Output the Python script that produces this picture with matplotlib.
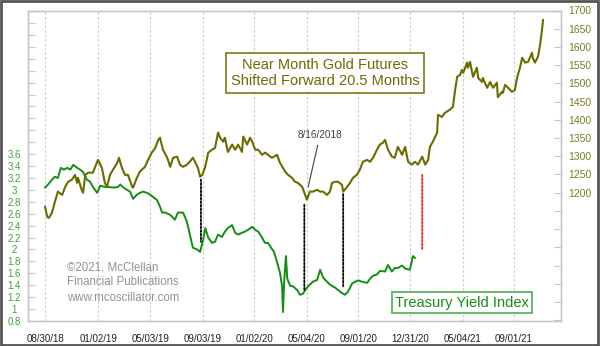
import numpy as np
import pandas as pd
import matplotlib
matplotlib.use('Agg')
from matplotlib import pyplot as plt
from matplotlib.patches import ConnectionPatch, Rectangle
import matplotlib.dates as mdates

plt.rcParams['font.family'] = ['Liberation Sans', 'DejaVu Sans']

# gold futures, shifted forward 20.5 months (plotted dates)
gold_dates = [
    '2018-08-30', '2018-09-04', '2018-09-08', '2018-09-15', '2018-09-22', '2018-09-29', '2018-10-09', '2018-10-16',
    '2018-10-23', '2018-11-01', '2018-11-08', '2018-11-13', '2018-11-15', '2018-11-25', '2018-11-27', '2018-12-02',
    '2018-12-09', '2018-12-20', '2018-12-30', '2019-01-01', '2019-01-10', '2019-01-17', '2019-01-22', '2019-01-29',
    '2019-02-05', '2019-02-15', '2019-02-19', '2019-02-26', '2019-03-05', '2019-03-12', '2019-03-22', '2019-03-24',
    '2019-04-02', '2019-04-09', '2019-04-21', '2019-04-28', '2019-05-07', '2019-05-15', '2019-05-22', '2019-05-26',
    '2019-06-02', '2019-06-12', '2019-06-19', '2019-06-26', '2019-07-05', '2019-07-12', '2019-07-19', '2019-07-28',
    '2019-08-04', '2019-08-11', '2019-08-16', '2019-08-23', '2019-08-28', '2019-09-02', '2019-09-09', '2019-09-16',
    '2019-09-25', '2019-10-02', '2019-10-09', '2019-10-14', '2019-10-21', '2019-10-25', '2019-11-01', '2019-11-11',
    '2019-11-18', '2019-11-25', '2019-12-04', '2019-12-07', '2019-12-16', '2019-12-23', '2019-12-28', '2020-01-04',
    '2020-01-11', '2020-01-20', '2020-01-27', '2020-02-03', '2020-02-12', '2020-02-17', '2020-02-24', '2020-03-02',
    '2020-03-14', '2020-03-21', '2020-03-30', '2020-04-06', '2020-04-13', '2020-04-23', '2020-04-30', '2020-05-04',
    '2020-05-11', '2020-05-18', '2020-05-28', '2020-06-04', '2020-06-11', '2020-06-20', '2020-06-27', '2020-07-02',
    '2020-07-09', '2020-07-16', '2020-07-25', '2020-07-28', '2020-08-06', '2020-08-13', '2020-08-20', '2020-08-29',
    '2020-09-05', '2020-09-12', '2020-09-22', '2020-09-29', '2020-10-06', '2020-10-15', '2020-10-22', '2020-10-29',
    '2020-11-03', '2020-11-10', '2020-11-19', '2020-11-26', '2020-12-03', '2020-12-13', '2020-12-20', '2020-12-27',
    '2021-01-05', '2021-01-12', '2021-01-19', '2021-01-29', '2021-02-05', '2021-02-12', '2021-02-16', '2021-02-23',
    '2021-03-05', '2021-03-07', '2021-03-16', '2021-03-23', '2021-04-04', '2021-04-11', '2021-04-16', '2021-04-21',
    '2021-04-28', '2021-05-02', '2021-05-05', '2021-05-14', '2021-05-16', '2021-05-21', '2021-05-28', '2021-06-06',
    '2021-06-09', '2021-06-18', '2021-06-20', '2021-06-30', '2021-07-07', '2021-07-14', '2021-07-23', '2021-07-25',
    '2021-08-04', '2021-08-06', '2021-08-11', '2021-08-18', '2021-08-27', '2021-09-03', '2021-09-08', '2021-09-15',
    '2021-09-20', '2021-09-27', '2021-10-04', '2021-10-13', '2021-10-15', '2021-10-20', '2021-10-27', '2021-11-01',
    '2021-11-05', '2021-11-08']
gold_values = [
    1161, 1134, 1131, 1145, 1175, 1203, 1194, 1216, 1230, 1236, 1249, 1227, 1241, 1203, 1200, 1249,
    1255, 1255, 1285, 1290, 1268, 1227, 1216, 1249, 1263, 1282, 1296, 1268, 1249, 1249, 1216, 1214,
    1241, 1258, 1271, 1290, 1310, 1323, 1345, 1351, 1318, 1296, 1271, 1296, 1299, 1277, 1271, 1277,
    1285, 1296, 1285, 1268, 1244, 1249, 1271, 1310, 1318, 1323, 1365, 1351, 1340, 1351, 1312, 1332,
    1318, 1332, 1312, 1354, 1332, 1351, 1340, 1318, 1318, 1304, 1310, 1304, 1296, 1299, 1304, 1282,
    1258, 1249, 1241, 1230, 1227, 1216, 1194, 1181, 1203, 1203, 1208, 1203, 1203, 1194, 1203, 1227,
    1230, 1230, 1222, 1203, 1216, 1227, 1241, 1249, 1263, 1285, 1290, 1285, 1296, 1318, 1332, 1337,
    1345, 1318, 1299, 1296, 1326, 1304, 1326, 1285, 1277, 1285, 1277, 1299, 1277, 1290, 1326, 1340,
    1365, 1414, 1408, 1419, 1428, 1436, 1482, 1518, 1524, 1537, 1529, 1557, 1543, 1559, 1518, 1543,
    1515, 1504, 1515, 1488, 1504, 1488, 1502, 1462, 1477, 1474, 1496, 1488, 1477, 1482, 1515, 1543,
    1570, 1557, 1559, 1584, 1570, 1557, 1573, 1606, 1642, 1674]

# treasury yield index
yield_dates = [
    '2018-08-30', '2018-09-06', '2018-09-15', '2018-09-22', '2018-09-29', '2018-10-06', '2018-10-13', '2018-10-21',
    '2018-10-28', '2018-11-04', '2018-11-13', '2018-11-20', '2018-11-27', '2018-12-06', '2018-12-13', '2018-12-20',
    '2018-12-30', '2019-01-06', '2019-01-17', '2019-01-24', '2019-02-03', '2019-02-10', '2019-02-17', '2019-02-22',
    '2019-03-01', '2019-03-10', '2019-03-17', '2019-03-24', '2019-04-02', '2019-04-09', '2019-04-16', '2019-04-26',
    '2019-05-03', '2019-05-10', '2019-05-19', '2019-05-26', '2019-05-31', '2019-06-07', '2019-06-19', '2019-06-30',
    '2019-07-07', '2019-07-19', '2019-07-28', '2019-08-04', '2019-08-11', '2019-08-21', '2019-08-28', '2019-09-04',
    '2019-09-09', '2019-09-16', '2019-09-25', '2019-10-02', '2019-10-09', '2019-10-18', '2019-10-25', '2019-11-01',
    '2019-11-11', '2019-11-18', '2019-11-25', '2019-12-04', '2019-12-11', '2019-12-18', '2019-12-28', '2020-01-04',
    '2020-01-11', '2020-01-20', '2020-01-27', '2020-02-03', '2020-02-12', '2020-02-17', '2020-02-24', '2020-03-02',
    '2020-03-07', '2020-03-09', '2020-03-12', '2020-03-16', '2020-03-19', '2020-03-26', '2020-04-02', '2020-04-11',
    '2020-04-18', '2020-04-25', '2020-05-04', '2020-05-11', '2020-05-18', '2020-05-28', '2020-06-04', '2020-06-11',
    '2020-06-20', '2020-06-27', '2020-07-09', '2020-07-16', '2020-07-25', '2020-08-01', '2020-08-08', '2020-08-18',
    '2020-08-25', '2020-09-01', '2020-09-10', '2020-09-22', '2020-09-29', '2020-10-06', '2020-10-15', '2020-10-22',
    '2020-11-03', '2020-11-10', '2020-11-19', '2020-11-26', '2020-12-03', '2020-12-13', '2020-12-20', '2020-12-31',
    '2021-01-05', '2021-01-07', '2021-01-12']
yield_values = [
    3.04, 3.09, 3.17, 3.22, 3.20, 3.37, 3.34, 3.37, 3.34, 3.42, 3.37, 3.34, 3.30, 3.17, 3.14, 3.05,
    2.95, 3.07, 3.05, 3.05, 3.04, 3.04, 3.05, 3.09, 3.04, 3.00, 2.97, 2.85, 2.92, 2.95, 2.97, 2.95,
    2.92, 2.88, 2.83, 2.72, 2.62, 2.62, 2.58, 2.50, 2.62, 2.62, 2.47, 2.25, 2.03, 2.00, 1.96, 2.16,
    2.36, 2.20, 2.11, 2.13, 2.25, 2.21, 2.30, 2.36, 2.41, 2.28, 2.25, 2.28, 2.30, 2.33, 2.38, 2.33,
    2.30, 2.20, 2.11, 2.11, 2.01, 1.96, 1.79, 1.61, 1.38, 0.95, 1.49, 1.89, 1.51, 1.39, 1.38, 1.32,
    1.24, 1.26, 1.36, 1.41, 1.46, 1.49, 1.66, 1.53, 1.46, 1.41, 1.36, 1.32, 1.27, 1.24, 1.29, 1.43,
    1.46, 1.48, 1.46, 1.44, 1.51, 1.56, 1.58, 1.64, 1.63, 1.74, 1.63, 1.69, 1.69, 1.73, 1.68, 1.66,
    1.81, 1.89, 1.86]

# dotted links: (date, gold value, yield value)
links_black = [('2019-08-30', 1236, 2.13), ('2020-04-28', 1167, 1.30), ('2020-07-28', 1196, 1.38)]
link_red = ('2021-01-29', 1249, 1.98)

date_ticks = ['2018-08-30', '2019-01-02', '2019-05-03', '2019-09-03', '2020-01-02',
              '2020-05-04', '2020-09-01', '2020-12-31', '2021-05-04', '2021-09-01']

gold_color = '#6b6b00'
gold_text = '#7c7c20'
green_line = '#138d13'
green_text = '#3aa23a'
frame = '#c8c8c8'

gd = pd.to_datetime(gold_dates)
yd = pd.to_datetime(yield_dates)
ticks = pd.to_datetime(date_ticks)

fig = plt.figure(figsize=(6.0, 3.46), dpi=100)
fig.patch.set_facecolor('white')
ax = fig.add_axes([28 / 600, 25 / 346, 533 / 600, 310.5 / 346])
ax2 = ax.twinx()

ax.plot(yd, yield_values, color=green_line, lw=1.4, zorder=3)
ax2.plot(gd, gold_values, color=gold_color, lw=1.5, zorder=3)

ax.set_xlim(pd.Timestamp('2018-07-21'), pd.Timestamp('2021-12-20'))
ax.set_ylim(0.8, 6.01)
ax2.set_ylim(848, 1700)

ax.set_xticks(ticks)
ax.set_xticklabels([t.strftime('%m/%d/%y') for t in ticks])
ax.tick_params(axis='x', length=0, pad=9, labelsize=7, labelcolor='#202020')
ax.grid(axis='x', color='#c8c8c8', ls=(0, (2, 2)), lw=0.8)

yt = np.round(np.arange(0.8, 6.01, 0.2), 1)
ax.set_yticks(yt)
ax.set_yticklabels([f'{v:g}' if v <= 3.6 else '' for v in yt])
ax.tick_params(axis='y', direction='in', length=5, color=frame, pad=10,
               labelsize=7, labelcolor=green_text)
for lab in ax.get_yticklabels():
    lab.set_horizontalalignment('center')

gt = np.arange(850, 1701, 50)
ax2.set_yticks(gt)
ax2.set_yticklabels([str(v) if v >= 1200 else '' for v in gt])
ax2.tick_params(axis='y', direction='in', length=5, color=frame, pad=5,
                labelsize=7.5, labelcolor=gold_text)

for a in (ax, ax2):
    for s in a.spines.values():
        s.set_color(frame)
        s.set_linewidth(1.0)

for d, g, y in links_black:
    x = mdates.date2num(pd.Timestamp(d))
    con = ConnectionPatch(xyA=(x, g), coordsA=ax2.transData, xyB=(x, y), coordsB=ax.transData,
                          color='black', lw=1.3, ls=(0, (1, 1)), zorder=4)
    fig.add_artist(con)
x = mdates.date2num(pd.Timestamp(link_red[0]))
fig.add_artist(ConnectionPatch(xyA=(x, link_red[1]), coordsA=ax2.transData,
                               xyB=(x, link_red[2]), coordsB=ax.transData,
                               color='#ff2020', lw=1.3, ls=(0, (1, 1)), zorder=4))

ax2.annotate('8/16/2018', xy=(pd.Timestamp('2020-05-07'), 1216),
             xytext=(pd.Timestamp('2020-06-04'), 1359), ha='center', va='center',
             fontsize=7.2, color='#404040',
             arrowprops=dict(arrowstyle='-', color='#404040', lw=0.8, shrinkA=2, shrinkB=0))

fig.text(325 / 600, 1 - 73 / 346, 'Near Month Gold Futures\nShifted Forward 20.5 Months',
         ha='center', va='center', fontsize=10.5, color=gold_color, linespacing=1.25,
         bbox=dict(boxstyle='square,pad=0.35', fc='white', ec='#7a7a10', lw=1.2))
fig.text(462 / 600, 1 - 302.5 / 346, 'Treasury Yield Index',
         ha='center', va='center', fontsize=10.5, color=green_line,
         bbox=dict(boxstyle='square,pad=0.22', fc='white', ec='#4caf4c', lw=1.2))
fig.text(67 / 600, 1 - 261 / 346, '©2021, McClellan\nFinancial Publications\nwww.mcoscillator.com',
         ha='left', va='top', fontsize=8.3, color='#929292', linespacing=1.38)

fig.patches.append(Rectangle((0.002, 0.003), 0.995, 0.994, transform=fig.transFigure,
                             fill=False, ec='#555555', lw=2))

fig.savefig('out.png', dpi=100)
